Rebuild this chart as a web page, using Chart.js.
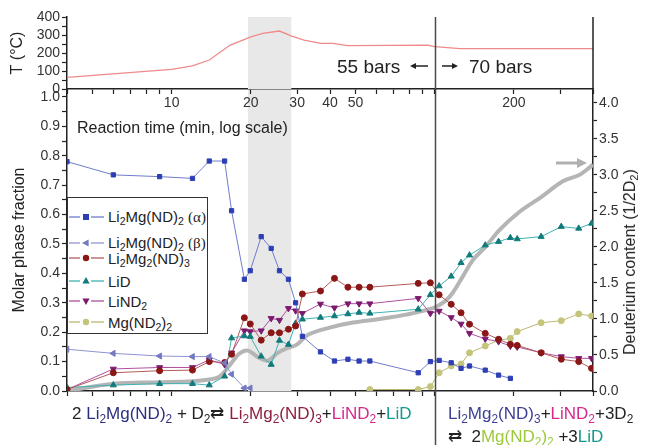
<!DOCTYPE html>
<html>
<head>
<meta charset="utf-8">
<script src="https://cdn.jsdelivr.net/npm/chart.js@4.4.1/dist/chart.umd.min.js"></script>
<style>
  body { margin: 0; background: #fff; }
  #wrap { position: relative; width: 646px; height: 445px; overflow: hidden;
          font-family: "Liberation Sans", Arial, sans-serif; color: #222; }
  canvas { position: absolute; left: 0; top: 0; }
  .ov { position: absolute; white-space: nowrap; line-height: 1; }
  sub { font-size: 70%; vertical-align: -0.3em; line-height: 0; }
  .nv { color: #2c2f80; } .mr { color: #8e1f3f; } .mg { color: #d6288c; }
  .tl { color: #139a8c; } .yg { color: #9cc93b; } .in { color: #3d3f95; }
  .gr { font-family: "Liberation Serif", "DejaVu Serif", serif; }
  #legend { position: absolute; left: 67px; top: 197px; width: 141px; height: 137px;
            border: 1px solid #333; background: #fff; box-sizing: border-box; }
  .lrow { position: absolute; left: 0; height: 20px; display: flex; align-items: center; font-size: 15px; }
  .lrow svg { margin-right: 3px; }
</style>
</head>
<body>
<div id="wrap">
  <canvas id="cMain" width="646" height="445"></canvas>
  <canvas id="cTop" width="646" height="445"></canvas>

  <div class="ov" style="left:77px;top:120px;font-size:16px;">Reaction time (min, log scale)</div>
  <div class="ov" style="left:337px;top:57px;font-size:19px;">55 bars</div>
  <div class="ov" style="left:469px;top:57px;font-size:19px;">70 bars</div>
  <svg class="ov" style="left:405px;top:58px;" width="60" height="16">
    <line x1="9" y1="8" x2="23" y2="8" stroke="#222" stroke-width="1.5"/>
    <polygon points="5,8 11,5 11,11" fill="#222"/>
    <line x1="37" y1="8" x2="49" y2="8" stroke="#222" stroke-width="1.5"/>
    <polygon points="53,8 47,5 47,11" fill="#222"/>
  </svg>
  <svg class="ov" style="left:552px;top:155px;" width="40" height="16">
    <line x1="4" y1="8" x2="26" y2="8" stroke="#b0b0b0" stroke-width="3"/>
    <polygon points="35,8 25,3 25,13" fill="#b0b0b0"/>
  </svg>

  <div class="ov" style="left:630px;top:262px;transform:translate(-50%,-50%) rotate(-90deg);font-size:16px;">Deuterium content (1/2D<sub>2</sub>)</div>

  <div id="legend"></div>

  <div class="ov" style="left:72px;top:405px;font-size:17px;">2 <span class="nv">Li<sub>2</sub>Mg(ND)<sub>2</sub></span> + D<sub>2</sub>⇄ <span class="mr">Li<sub>2</sub>Mg<sub>2</sub>(ND)<sub>3</sub></span>+<span class="mg">LiND<sub>2</sub></span>+<span class="tl">LiD</span></div>
  <div class="ov" style="left:448px;top:405px;font-size:17px;"><span class="in">Li<sub>2</sub>Mg<sub>2</sub>(ND)<sub>3</sub></span>+<span class="mg">LiND<sub>2</sub></span>+3D<sub>2</sub></div>
  <div class="ov" style="left:448px;top:428px;font-size:17px;">⇄ &nbsp;2<span class="yg">Mg(ND<sub>2</sub>)<sub>2</sub></span> +3<span class="tl">LiD</span></div>
</div>

<script>
// ---------------- data ----------------
const tempTimes  = [4, 10, 12, 13.9, 16.7, 20, 22.2, 25.7, 28.6, 31.9, 36.9, 41, 46.7, 94, 100, 125, 400];
const tempValues = [65, 109, 128, 161, 244, 290, 309, 322, 294, 272, 254, 254, 241, 244, 235, 224, 224];

const times = [4, 6, 9, 12, 13.9, 15.9, 16.9, 18.9, 19.9, 21.9, 23.9, 25.7, 27.8, 29.6, 31.4, 36.8, 41.6,
               46.8, 51.6, 56.7, 86.6, 96.3, 104, 115.6, 126, 135.7, 155.7, 175, 194, 206, 254, 303, 353, 395];

const alphaPhase = [0.78, 0.735, 0.729, 0.723, 0.782, 0.782, 0.613, 0.38, 0.409, 0.525, 0.485, 0.409, 0.38, 0.30,
                    0.186, 0.133, 0.102, 0.108, 0.102, 0.102, 0.062, 0.10, 0.104, 0.096, 0.077, 0.085, 0.071, 0.054,
                    0.043, null, null, null, null, null];
const betaPhase  = [0.142, 0.128, 0.119, 0.117, 0.117, 0.095, 0.057, 0.01, 0.01, null, null, null, null, null,
                    null, null, null, null, null, null, null, null, null, null, null, null, null, null,
                    null, null, null, null, null, null];
const li2mg2     = [0.005, 0.062, 0.069, 0.071, 0.1, 0.097, 0.125, 0.249, 0.228, 0.173, 0.198, 0.198, 0.21, 0.221,
                    0.33, 0.34, 0.383, 0.353, 0.353, 0.353, 0.366, 0.368, 0.327, 0.295, 0.266, 0.227, 0.196, 0.176,
                    0.159, 0.155, 0.13, 0.108, 0.1, 0.077];
const liD        = [0.012, 0.02, 0.025, 0.025, 0.02, 0.05, 0.18, 0.187, 0.185, 0.118, 0.09, 0.172, 0.158, 0.23,
                    0.244, 0.25, 0.255, 0.262, 0.267, 0.264, 0.278, 0.327, 0.357, 0.39, 0.436, 0.462, 0.496, 0.508,
                    0.521, 0.517, 0.525, 0.559, 0.553, 0.57];
const liND2      = [0.005, 0.075, 0.08, 0.08, 0.106, 0.09, 0.13, 0.205, 0.202, 0.205, 0.247, 0.241, 0.281, 0.273,
                    0.264, 0.296, 0.283, 0.297, 0.297, 0.297, 0.315, 0.264, 0.272, 0.25, 0.228, 0.196, 0.177, 0.168,
                    0.153, 0.15, 0.13, 0.117, 0.111, 0.111];
const mgND2      = [null, null, null, null, null, null, null, null, null, null, null, null, null, null,
                    null, null, null, null, null, 0.005, 0.005, 0.015, 0.062, 0.085, 0.092, 0.13, 0.153, 0.173,
                    0.179, 0.202, 0.232, 0.239, 0.262, 0.255];

const deutTimes  = [4, 6, 9, 12, 13.9, 15.2, 16.8, 18.1, 19.5, 21.3, 23.2, 25.3, 27.3, 29.8, 33, 39.9, 48.9,
                    61.7, 77.8, 98.5, 109, 117, 128, 140, 156, 177, 211, 254, 307, 356, 400];
const deutValues = [0.0, 0.1, 0.12, 0.135, 0.16, 0.2, 0.38, 0.52, 0.56, 0.47, 0.42, 0.53, 0.59, 0.64, 0.78, 0.88,
                    0.95, 1.0, 1.06, 1.15, 1.24, 1.36, 1.59, 1.82, 2.0, 2.24, 2.49, 2.69, 2.91, 3.0, 3.14];

const xTickValues = [4, 5, 6, 7, 8, 9, 10, 20, 30, 40, 50, 60, 70, 80, 90, 100, 200, 300, 400];
const xTickLabels = [10, 20, 30, 40, 50, 200];
const shadeFrom = 19.5, shadeTo = 28.5;
const pressureSwitch = 100;

// ---------------- helpers ----------------
Chart.defaults.font.family = '"Liberation Sans", Arial, sans-serif';
Chart.defaults.color = '#333';

const pts = (ts, vs) => ts.map((t, i) => ({x: t, y: vs[i]})).filter(p => p.y !== null);
const range = (a, b, s) => { const r = []; for (let v = a; v <= b + 1e-9; v += s) r.push(Math.round(v * 1000) / 1000); return r; };

const decor = {
  id: 'decor',
  beforeDatasetsDraw(chart, args, o) {
    const {ctx, chartArea: a, scales: {x}} = chart;
    const x0 = x.getPixelForValue(shadeFrom), x1 = x.getPixelForValue(shadeTo);
    ctx.save(); ctx.fillStyle = '#e8e8e8';
    ctx.fillRect(x0, a.top, x1 - x0, a.bottom - a.top); ctx.restore();
  },
  afterDraw(chart, args, o) {
    const {ctx, chartArea: a, scales: {x}} = chart;
    const xv = Math.round(x.getPixelForValue(pressureSwitch)) + 0.5;
    ctx.save(); ctx.strokeStyle = '#4a4a4a'; ctx.lineWidth = 1.5;
    ctx.beginPath(); ctx.moveTo(xv, a.top); ctx.lineTo(xv, o.extendTo || a.bottom); ctx.stroke();
    if (o.rightBorder) { ctx.strokeStyle = '#222'; ctx.beginPath(); ctx.moveTo(a.right, a.top); ctx.lineTo(a.right, a.bottom); ctx.stroke(); }
    ctx.restore();
  }
};

const axisGrid = {drawOnChartArea: false, drawTicks: true, tickLength: 5, tickColor: '#222', tickWidth: 1.2};
const axisBorder = {display: true, color: '#222', width: 1.5};

function xAxis(showLabels, h) {
  return {
    type: 'logarithmic', min: 4, max: 400,
    afterBuildTicks: s => { s.ticks = xTickValues.map(v => ({value: v})); },
    afterFit: s => { s.height = h; },
    ticks: { autoSkip: false, maxRotation: 0, padding: 1, font: {size: 14},
             callback: v => (showLabels && xTickLabels.includes(v)) ? String(v) : '' },
    grid: axisGrid, border: axisBorder
  };
}

// ---------------- top panel: temperature ----------------
new Chart(document.getElementById('cTop'), {
  type: 'line',
  data: { datasets: [{ label: 'T (°C)', data: pts(tempTimes, tempValues), borderColor: '#f08a8a',
                       borderWidth: 1.3, pointRadius: 0, tension: 0, fill: false }] },
  options: {
    responsive: false, animation: false, devicePixelRatio: 1,
    layout: { padding: { top: 17, left: 0, right: 53, bottom: 336 } },
    plugins: { legend: {display: false}, tooltip: {enabled: false}, decor: { rightBorder: true } },
    scales: {
      x: xAxis(true, 20),
      y: { min: 0, max: 400,
           afterBuildTicks: s => { s.ticks = range(0, 400, 50).map(v => ({value: v})); },
           afterFit: s => { s.width = 67; },
           ticks: { autoSkip: false, padding: 2, font: {size: 14}, callback: v => v % 100 === 0 ? String(v) : '' },
           title: { display: true, text: 'T (°C)', font: {size: 16}, color: '#222', padding: {top: 8, bottom: 0} },
           grid: axisGrid, border: axisBorder }
    }
  },
  plugins: [decor]
});

// ---------------- main panel ----------------
const series = [
  { label: 'Li₂Mg(ND)₂ (α)', html: 'Li<sub>2</sub>Mg(ND)<sub>2</sub> <span class="gr">(α)</span>', values: alphaPhase,
    marker: '#2e3fb4', line: '#6f7ccc', style: 'rect', rot: 0, r: 3 },
  { label: 'Li₂Mg(ND)₂ (β)', html: 'Li<sub>2</sub>Mg(ND)<sub>2</sub> <span class="gr">(β)</span>', values: betaPhase,
    marker: '#7479c2', line: '#8f94d2', style: 'triangle', rot: -90, r: 3.5 },
  { label: 'Li₂Mg₂(ND)₃', html: 'Li<sub>2</sub>Mg<sub>2</sub>(ND)<sub>3</sub>', values: li2mg2,
    marker: '#8a1616', line: '#b35a5a', style: 'circle', rot: 0, r: 3 },
  { label: 'LiD', html: 'LiD', values: liD,
    marker: '#137a7a', line: '#3fb3b3', style: 'triangle', rot: 0, r: 3.5 },
  { label: 'LiND₂', html: 'LiND<sub>2</sub>', values: liND2,
    marker: '#7b1a6e', line: '#b0509f', style: 'triangle', rot: 180, r: 3.5 },
  { label: 'Mg(ND₂)₂', html: 'Mg(ND<sub>2</sub>)<sub>2</sub>', values: mgND2,
    marker: '#c4c47c', line: '#b9b970', style: 'circle', rot: 0, r: 3 }
];

const datasets = series.map((s, i) => ({
  label: s.label, data: pts(times, s.values), yAxisID: 'y',
  borderColor: s.line, borderWidth: 1, backgroundColor: s.marker,
  pointStyle: s.style, pointRotation: s.rot, pointRadius: s.r, pointBorderColor: s.marker, pointBorderWidth: 1,
  tension: 0, fill: false, order: 1
}));
datasets.push({
  label: 'Deuterium content (1/2D₂)', data: pts(deutTimes, deutValues), yAxisID: 'y2',
  borderColor: '#b5b5b5', borderWidth: 4, pointRadius: 0, tension: 0.35, fill: false, order: 10
});

new Chart(document.getElementById('cMain'), {
  type: 'line',
  data: { datasets },
  options: {
    responsive: false, animation: false, devicePixelRatio: 1,
    layout: { padding: { top: 89, left: 0, right: 0, bottom: 44 } },
    plugins: { legend: {display: false}, tooltip: {enabled: false}, decor: { extendTo: 445 } },
    scales: {
      x: xAxis(false, 10),
      y: { position: 'left', min: 0, max: 1.027,
           afterBuildTicks: s => { s.ticks = range(0, 1, 0.05).map(v => ({value: v})); },
           afterFit: s => { s.width = 67; },
           ticks: { autoSkip: false, padding: 2, font: {size: 14},
                    callback: v => Math.round(v * 100) % 10 === 0 ? v.toFixed(1) : '' },
           title: { display: true, text: 'Molar phase fraction', font: {size: 16}, color: '#222', padding: {top: 10, bottom: 0} },
           grid: axisGrid, border: axisBorder },
      y2: { position: 'right', min: 0, max: 4.19,
            afterBuildTicks: s => { s.ticks = range(0, 4, 0.25).map(v => ({value: v})); },
            afterFit: s => { s.width = 53; },
            ticks: { autoSkip: false, padding: 2, font: {size: 14},
                     callback: v => Math.round(v * 100) % 50 === 0 ? v.toFixed(1) : '' },
            grid: Object.assign({}, axisGrid, {tickLength: 4}), border: axisBorder }
    }
  },
  plugins: [decor]
});

// ---------------- HTML legend (built from the series list) ----------------
const legendRowsY = [19, 45, 60, 83, 103, 124];
const legend = document.getElementById('legend');
series.forEach((s, i) => {
  let mk;
  const c = s.marker, cx = 18, cy = 10;
  if (s.style === 'rect') mk = `<rect x="${cx-3}" y="${cy-3}" width="6" height="6" fill="${c}"/>`;
  else if (s.style === 'circle') mk = `<circle cx="${cx}" cy="${cy}" r="3.2" fill="${c}"/>`;
  else {
    const p = [[0,-4],[3.6,2.6],[-3.6,2.6]];
    const a = s.rot * Math.PI / 180;
    const q = p.map(([x, y]) => [cx + x*Math.cos(a) - y*Math.sin(a), cy + x*Math.sin(a) + y*Math.cos(a)]);
    mk = `<polygon points="${q.map(v => v.join(',')).join(' ')}" fill="${c}"/>`;
  }
  const row = document.createElement('div');
  row.className = 'lrow';
  row.style.top = (legendRowsY[i] - 10) + 'px';
  row.innerHTML = `<svg width="37" height="20"><line x1="1" y1="10" x2="12" y2="10" stroke="${s.line}" stroke-width="1.3"/>` +
                  `<line x1="23" y1="10" x2="36" y2="10" stroke="${s.line}" stroke-width="1.3"/>${mk}</svg>` +
                  `<span>${s.html}</span>`;
  legend.appendChild(row);
});
</script>
</body>
</html>
